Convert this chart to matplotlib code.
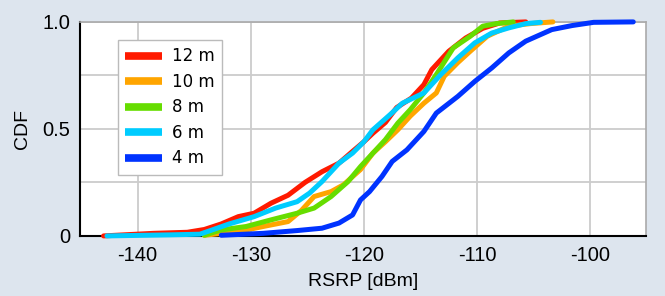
import matplotlib
matplotlib.use("Agg")
import matplotlib.pyplot as plt

# RSRP [dBm] vs CDF
x_12m = [-143.0, -138.6, -135.6, -134.1, -132.6, -131.1, -129.7, -128.2, -126.7, -125.2,
         -123.7, -122.2, -121.0, -120.0, -119.2, -118.1, -117.1, -115.8, -114.7, -114.0,
         -112.5, -111.0, -109.5, -108.0, -105.7]
y_12m = [0.0, 0.012, 0.017, 0.03, 0.056, 0.09, 0.106, 0.153, 0.19, 0.25,
         0.30, 0.34, 0.395, 0.44, 0.48, 0.53, 0.60, 0.644, 0.707, 0.777,
         0.863, 0.925, 0.97, 0.995, 1.0]

x_10m = [-134.1, -131.1, -128.9, -126.7, -125.5, -124.4, -122.9, -121.8, -120.3, -119.2,
         -118.1, -117.0, -115.9, -114.7, -113.6, -112.9, -111.7, -110.6, -109.1, -107.2,
         -105.3, -103.3]
y_10m = [0.003, 0.02, 0.044, 0.067, 0.12, 0.184, 0.207, 0.239, 0.31, 0.387,
         0.44, 0.496, 0.56, 0.62, 0.668, 0.746, 0.81, 0.863, 0.933, 0.98,
         0.992, 1.0]

x_8m = [-134.1, -132.6, -130.4, -128.2, -125.9, -124.4, -122.9, -121.4, -120.3, -119.2,
        -118.1, -117.0, -115.9, -114.7, -113.6, -112.1, -110.6, -109.5, -108.3, -106.8]
y_8m = [0.003, 0.028, 0.044, 0.075, 0.106, 0.13, 0.184, 0.254, 0.324, 0.387,
        0.45, 0.527, 0.59, 0.668, 0.754, 0.879, 0.933, 0.98, 0.992, 1.0]

x_6m = [-142.7, -137.1, -134.5, -133.4, -131.9, -129.7, -127.8, -125.9, -124.8, -123.7,
        -122.2, -121.0, -120.0, -119.2, -117.7, -116.6, -114.7, -113.2, -111.7, -110.2,
        -108.7, -107.2, -105.7, -104.4]
y_6m = [0.0, 0.005, 0.008, 0.028, 0.056, 0.09, 0.13, 0.16, 0.2, 0.254,
        0.34, 0.387, 0.44, 0.496, 0.566, 0.62, 0.668, 0.754, 0.832, 0.902,
        0.948, 0.972, 0.992, 0.998]

x_4m = [-132.6, -128.9, -125.9, -123.7, -122.2, -121.0, -120.3, -119.5, -118.4, -117.5,
        -116.2, -114.7, -113.6, -111.7, -110.2, -108.7, -107.2, -105.7, -103.4, -101.6,
        -99.7, -96.2]
y_4m = [0.003, 0.012, 0.025, 0.036, 0.06, 0.098, 0.168, 0.207, 0.278, 0.348,
        0.402, 0.488, 0.574, 0.652, 0.722, 0.785, 0.855, 0.91, 0.964, 0.983,
        0.998, 1.0]

labels = ['12 m', '10 m', '8 m', '6 m', '4 m']
colors = ['#ff1a00', '#ffa500', '#66dd00', '#00ccff', '#0033ff']
xticks = [-140, -130, -120, -110, -100]

plt.rcParams['axes.unicode_minus'] = False
bg = '#dde5ee'
tick_font = 'Liberation Sans'

fig = plt.figure(figsize=(6.65, 2.96), dpi=100, facecolor=bg)
ax = fig.add_axes([0.120, 0.203, 0.851, 0.723])
ax.set_facecolor('white')

series = [(x_12m, y_12m), (x_10m, y_10m), (x_8m, y_8m), (x_6m, y_6m), (x_4m, y_4m)]
for (xs, ys), lab, col in zip(series, labels, colors):
    ax.plot(xs, ys, color=col, lw=3.6, label=lab, clip_on=False,
            solid_joinstyle='round', solid_capstyle='round', zorder=3)

ax.set_xlim(-145.1, -95.1)
ax.set_ylim(0, 1)
ax.set_xticks(xticks)
ax.set_xticklabels([str(t) for t in xticks], fontsize=14.5, family=tick_font)
ax.set_yticks([0, 0.25, 0.5, 0.75, 1.0])
ax.set_yticklabels(['0', '', '0.5', '', '1.0'], fontsize=14.5, family=tick_font)
ax.tick_params(length=0, pad=7)
ax.grid(True, color='#cccccc', lw=1.3, zorder=0)

for side in ['top', 'right']:
    ax.spines[side].set_color('#aaaaaa')
    ax.spines[side].set_linewidth(1.2)
for side in ['left', 'bottom']:
    ax.spines[side].set_color('black')
    ax.spines[side].set_linewidth(1.5)

ax.set_xlabel('RSRP [dBm]', fontsize=14, family=tick_font, labelpad=6)
ax.set_ylabel('CDF', fontsize=14, family=tick_font, labelpad=8)

leg = ax.legend(loc='upper left', bbox_to_anchor=(0.067, 0.916), fontsize=12,
                frameon=True, fancybox=False, framealpha=1, edgecolor='#bbbbbb',
                handlelength=2.2, handletextpad=0.6, labelspacing=0.45,
                borderpad=0.45, borderaxespad=0)
for line in leg.get_lines():
    line.set_linewidth(5.5)
    line.set_solid_capstyle('butt')

fig.savefig('out.png', dpi=100, facecolor=bg)
